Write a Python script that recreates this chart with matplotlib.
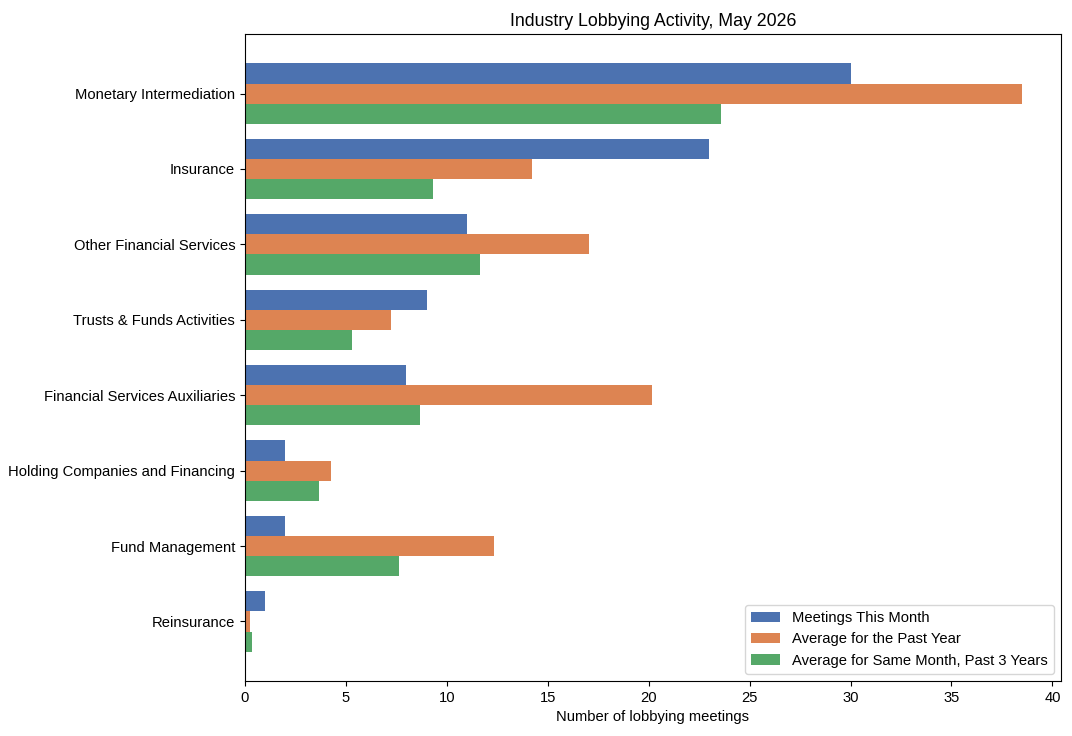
import matplotlib

matplotlib.use("Agg")

import matplotlib.pyplot as plt
import numpy as np

plt.rcParams["font.family"] = ["Liberation Sans", "DejaVu Sans"]
plt.rcParams["font.size"] = 10.6

categories = [
    "Monetary Intermediation",
    "Insurance",
    "Other Financial Services",
    "Trusts & Funds Activities",
    "Financial Services Auxiliaries",
    "Holding Companies and Financing",
    "Fund Management",
    "Reinsurance",
]
meetings_this_month = [30, 23, 11, 9, 8, 2, 2, 1]
avg_past_year = [38.5, 14.2, 17.05, 7.25, 20.17, 4.26, 12.35, 0.25]
avg_same_month_3y = [23.6, 9.32, 11.65, 5.3, 8.67, 3.67, 7.63, 0.33]

series = [
    ("Meetings This Month", meetings_this_month, "#4C72B0"),
    ("Average for the Past Year", avg_past_year, "#DD8452"),
    ("Average for Same Month, Past 3 Years", avg_same_month_3y, "#55A868"),
]

fig = plt.figure(figsize=(10.72, 7.36), dpi=100)
ax = fig.add_axes([0.2285, 0.0747, 0.7612, 0.8791])

y = np.arange(len(categories))
h = 0.8 / 3
for i, (label, values, color) in enumerate(series):
    ax.barh(y + (i - 1) * h, values, height=h, color=color, label=label)

ax.set_yticks(y)
ax.set_yticklabels(categories)
ax.invert_yaxis()
ax.set_xlabel("Number of lobbying meetings")
ax.set_title("Industry Lobbying Activity, May 2026", fontsize=12.8)
ax.legend(loc="lower right", fontsize=10.6)

fig.savefig("out.png")
